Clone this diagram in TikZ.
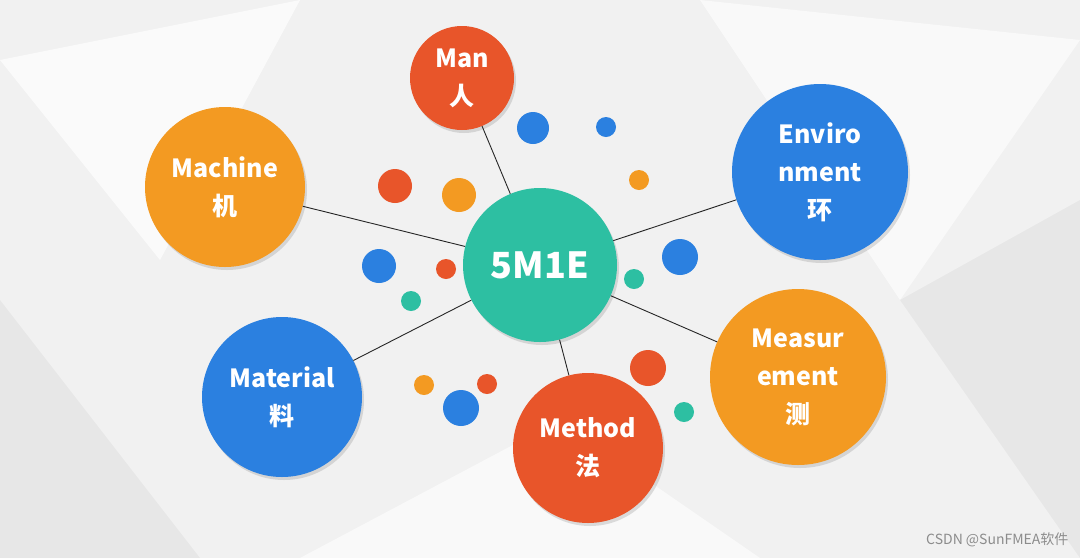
\documentclass[tikz,border=0pt]{standalone}
\usepackage{fontspec}
\setmainfont{Noto Sans CJK SC}[BoldFont={* Black}]
\usetikzlibrary{shadows}
\definecolor{cteal}{HTML}{2DBFA2}
\definecolor{cred}{HTML}{E8552A}
\definecolor{corg}{HTML}{F39A22}
\definecolor{cblue}{HTML}{2B80E0}
\definecolor{bg}{HTML}{F1F1F1}
\begin{document}
\begin{tikzpicture}[x=1pt,y=-1pt,
  big/.style={circle,inner sep=0pt,text=white,font=\bfseries\fontsize{25}{38}\selectfont,align=center,drop shadow={shadow xshift=2pt,shadow yshift=-3pt,opacity=0.25}},
  link/.style={draw=black!85,line width=0.9pt}]
\fill[bg] (0,0) rectangle (1080,558);
\fill[white,opacity=0.7] (0,60) -- (300,0) -- (160,260) -- cycle;
\fill[white,opacity=0.6] (700,0) -- (1080,40) -- (900,300) -- cycle;
\fill[black,opacity=0.04] (0,300) -- (200,558) -- (0,558) -- cycle;
\fill[black,opacity=0.04] (900,300) -- (1080,200) -- (1080,558) -- cycle;
\fill[white,opacity=0.6] (300,558) -- (560,420) -- (760,558) -- cycle;
\useasboundingbox (0,0) rectangle (1080,558);
\node[big,fill=cteal,minimum size=154pt,font=\bfseries\fontsize{36}{40}\selectfont] (c) at (540,265) {5M1E};
\node[big,fill=cred,minimum size=104pt] (man) at (462,78) {Man\\人};
\node[big,fill=corg,minimum size=160pt] (mac) at (225,187) {Machine\\机};
\node[big,fill=cblue,minimum size=176pt] (env) at (820,172) {Enviro\\nment\\环};
\node[big,fill=cblue,minimum size=160pt] (mat) at (282,397) {Material\\料};
\node[big,fill=corg,minimum size=176pt] (mea) at (798,377) {Measur\\ement\\测};
\node[big,fill=cred,minimum size=150pt] (met) at (588,448) {Method\\法};
\draw[link] (c) -- (man); \draw[link] (c) -- (mac); \draw[link] (c) -- (env);
\draw[link] (c) -- (mat); \draw[link] (c) -- (mea); \draw[link] (c) -- (met);
\foreach \x/\y/\r/\col in {533/128/16/cblue,606/127/10/cblue,395/186/17/cred,459/195/17/corg,639/180/10/corg,680/257/18/cblue,379/266/17/cblue,446/269/10/cred,411/301/10/cteal,634/279/10/cteal,648/368/18/cred,424/385/10/corg,487/384/10/cred,461/408/18/cblue,684/412/10/cteal}
  \fill[\col] (\x,\y) circle (\r);
\node[text=black!45,font=\fontsize{14}{16}\selectfont,anchor=east] (wm) at (1072,540) {CSDN @SunFMEA软件};
\end{tikzpicture}
\end{document}
